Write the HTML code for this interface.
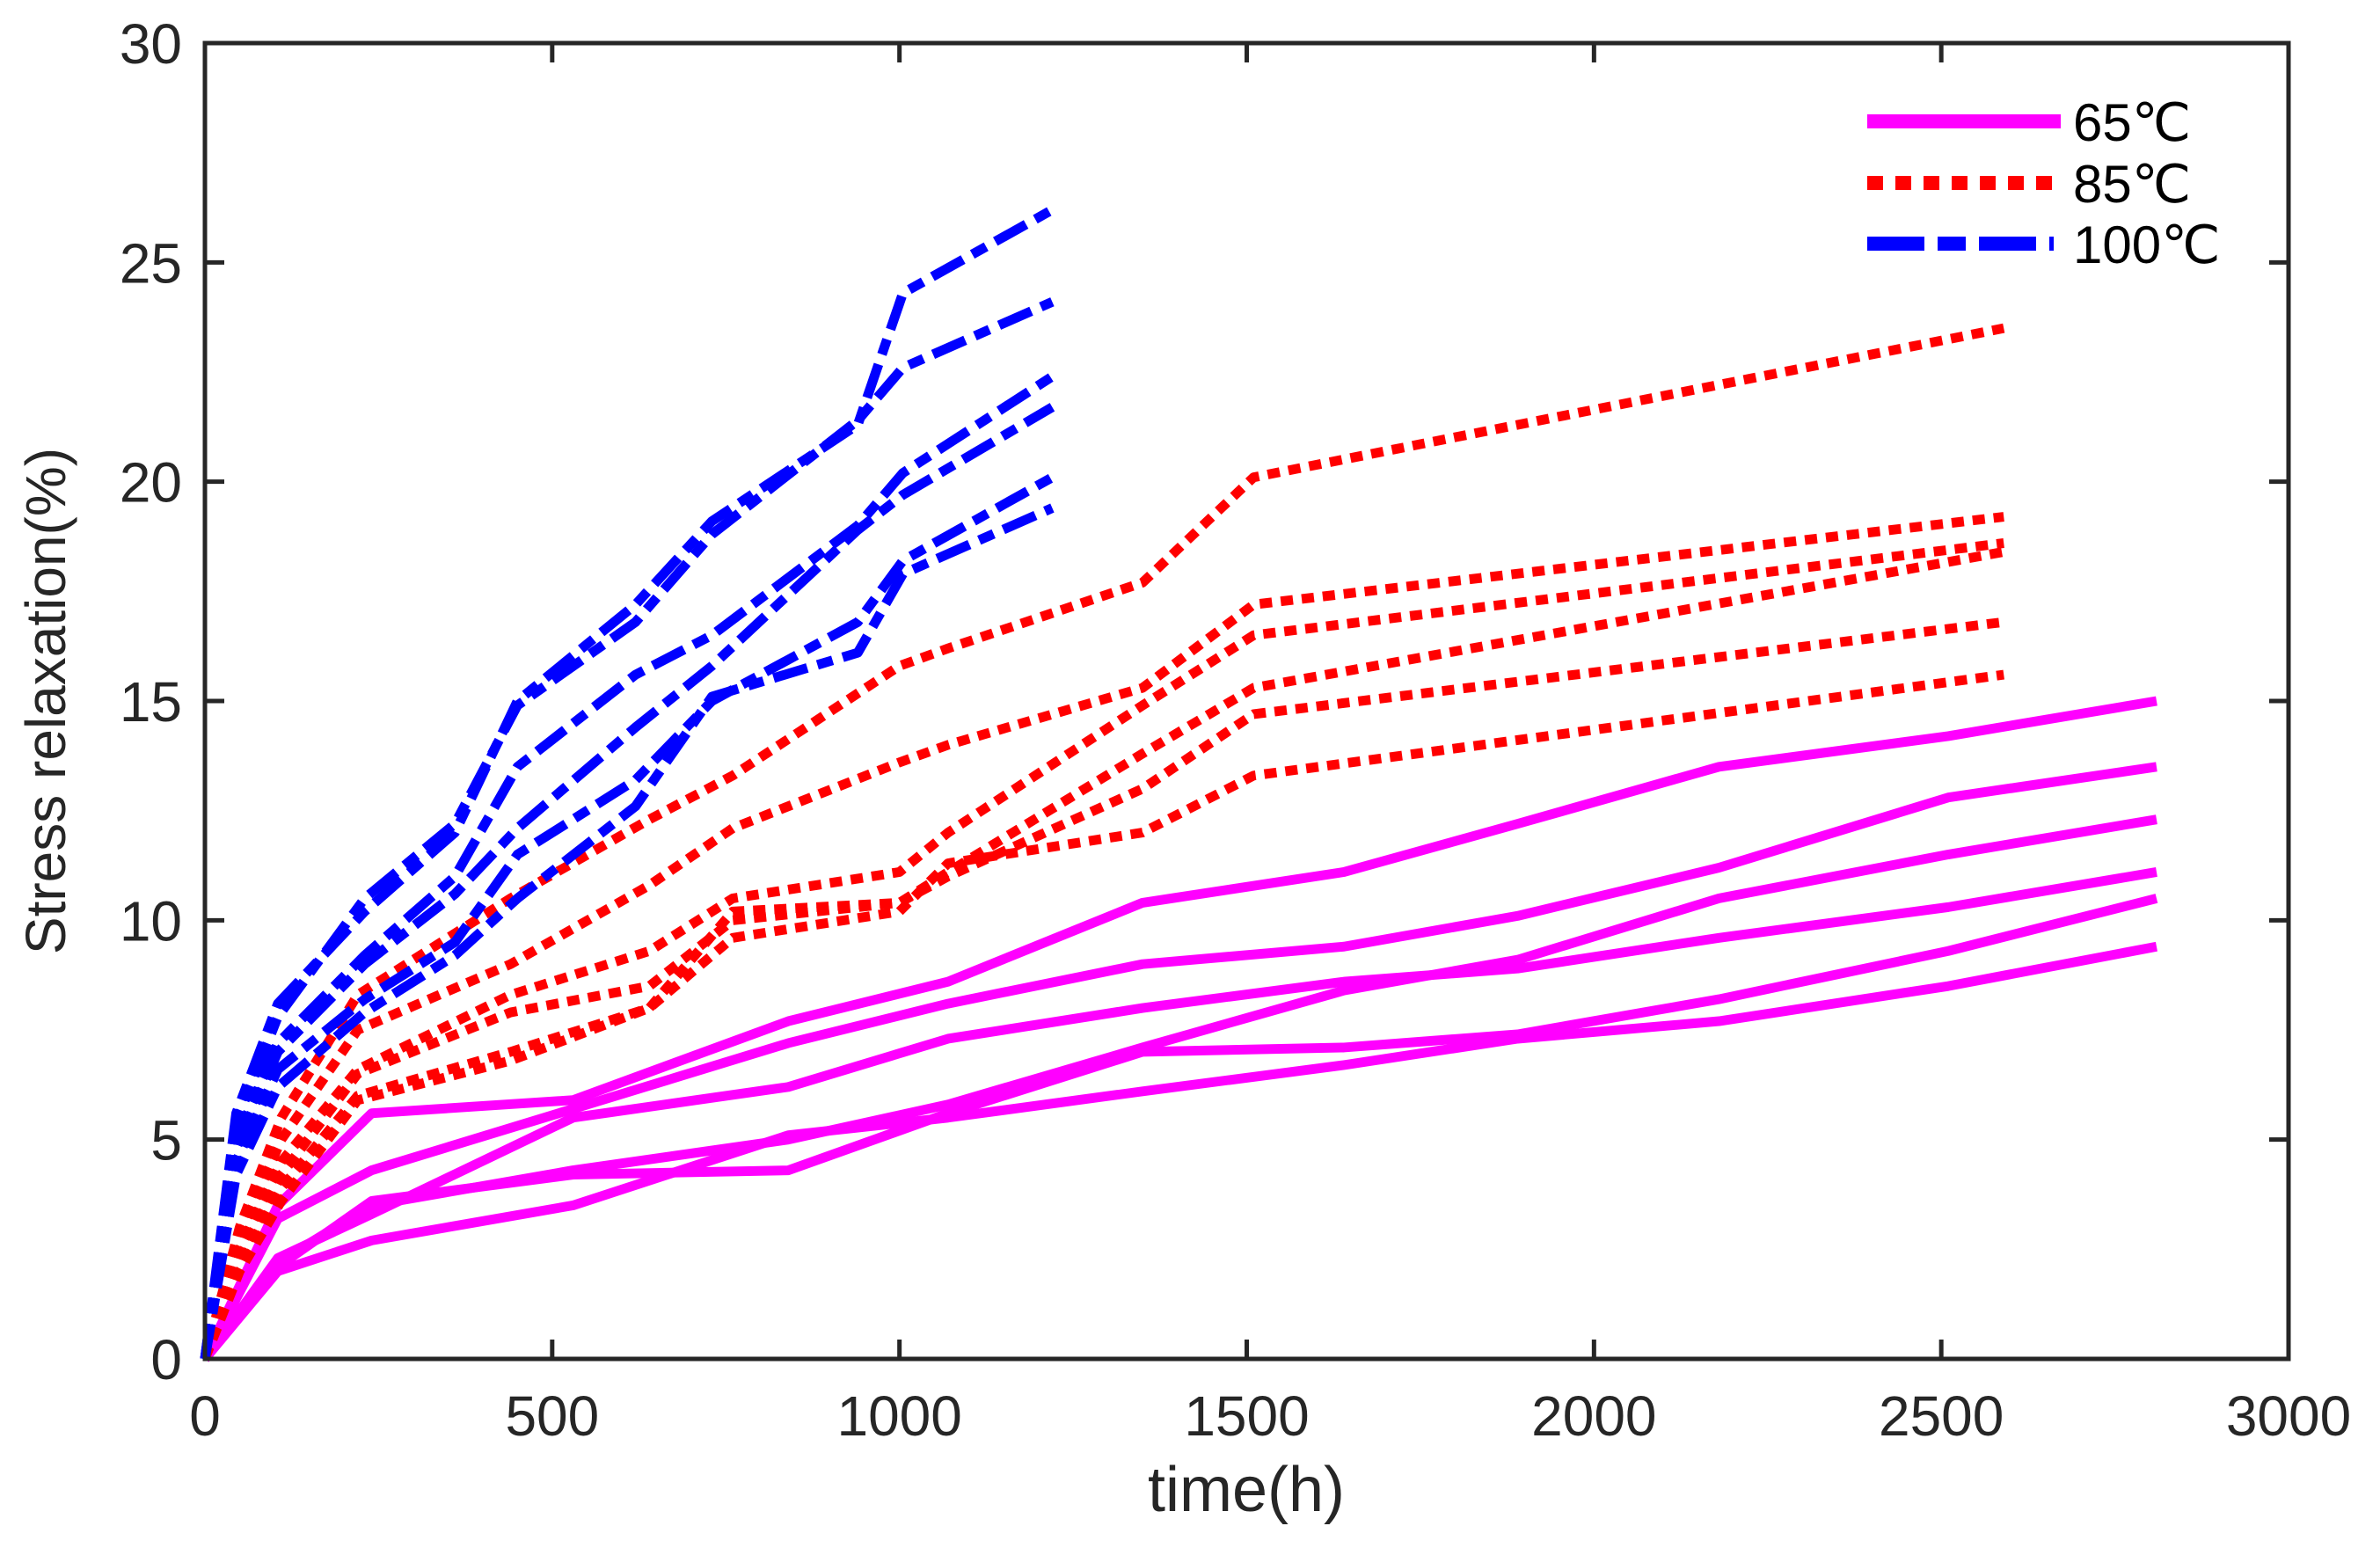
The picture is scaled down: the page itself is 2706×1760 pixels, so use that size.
<!DOCTYPE html>
<html><head><meta charset="utf-8"><style>body{margin:0;background:#fff}svg{display:block}</style></head>
<body>
<svg id="chart" width="2706" height="1760" xmlns="http://www.w3.org/2000/svg" font-family="Liberation Sans, DejaVu Sans, sans-serif">
<rect width="2706" height="1760" fill="#fff"/>
<g id="series"></g>
<g id="axes"></g>
<text x="1417" y="1718" font-size="72" text-anchor="middle" fill="#262626">time(h)</text>
<text transform="translate(74,797) rotate(-90)" font-size="64" text-anchor="middle" fill="#262626">Stress relaxation(%)</text>
<g>
<line x1="2123" y1="138" x2="2343" y2="138" stroke="#ff00ff" stroke-width="16"/>
<text x="2357" y="160" font-size="60" fill="#000">65℃</text>
<line x1="2123" y1="208" x2="2335" y2="208" stroke="#ff0000" stroke-width="16" stroke-dasharray="18,14"/>
<text x="2357" y="230" font-size="60" fill="#000">85℃</text>
<line x1="2123" y1="277" x2="2335" y2="277" stroke="#0000ff" stroke-width="16" stroke-dasharray="65,15,32,15"/>
<text x="2357" y="299" font-size="60" fill="#000">100℃</text>
</g>
</svg>
<script>
const xTicks=[0,500,1000,1500,2000,2500,3000];
const yTicks=[0,5,10,15,20,25,30];
const t65=[0,105,240,530,840,1070,1350,1640,1890,2180,2510,2810];
const s65a=[0,3.5,5.6,5.9,7.7,8.6,10.4,11.1,12.2,13.5,14.2,15.0];
const s65b=[0,3.2,4.3,5.7,7.2,8.1,9.0,9.4,10.1,11.2,12.8,13.5];
const s65c=[0,2.2,3.5,4.3,5.0,5.8,7.1,8.4,9.1,10.5,11.5,12.3];
const s65d=[0,2.3,3.3,5.5,6.2,7.3,8.0,8.6,8.9,9.6,10.3,11.1];
const s65e=[0,2.1,3.6,4.2,4.3,5.6,7.0,7.1,7.4,8.2,9.3,10.5];
const s65f=[0,2.0,2.7,3.5,5.1,5.5,6.1,6.7,7.3,7.7,8.5,9.4];
const t85=[0,50,110,220,440,640,760,1000,1070,1350,1510,2590];
const s85a=[0,3.0,5.5,8.3,10.5,12.3,13.3,15.8,16.2,17.7,20.1,23.5];
const s85b=[0,2.8,5.0,7.5,9.0,10.8,12.1,13.6,14.0,15.3,17.2,19.2];
const s85c=[0,2.5,4.5,6.6,8.3,9.3,10.5,11.1,12.0,14.9,16.5,18.6];
const s85d=[0,2.3,4.2,6.5,7.9,8.5,10.0,10.4,11.1,13.8,15.3,18.4];
const s85e=[0,2.1,3.9,6.0,7.0,8.0,10.2,10.4,11.0,13.0,14.7,16.8];
const s85f=[0,2.0,3.6,5.9,6.8,8.0,9.6,10.2,11.3,12.0,13.3,15.6];
const t100=[0,45,105,230,360,450,620,730,940,1005,1220];
const s100a=[0,5.6,8.1,10.2,12.0,15.0,17.2,19.1,21.3,24.3,26.2];
const s100b=[0,5.4,7.8,10.5,12.2,14.9,16.8,18.8,21.4,22.6,24.1];
const s100c=[0,5.0,7.2,9.2,11.0,13.5,15.6,16.5,19.0,20.2,22.4];
const s100d=[0,4.8,7.0,9.0,10.6,12.1,14.4,15.8,18.9,19.7,21.7];
const s100e=[0,4.5,6.6,8.2,9.5,11.5,13.2,15.0,16.8,18.2,20.1];
const s100f=[0,4.2,6.2,7.9,9.2,10.5,12.6,15.1,16.1,17.9,19.4];

const L=233,R=2602,T=49,B=1545;
function X(v){return L+(v-0)/(3000-0)*(R-L);}
function Y(v){return B-(v-0)/(30-0)*(B-T);}
const NS='http://www.w3.org/2000/svg';
const sg=document.getElementById('series'), ag=document.getElementById('axes');
function line(ts,vs,color,dash,name){
  const p=document.createElementNS(NS,'polyline');
  p.setAttribute('points',ts.map((t,i)=>X(t)+','+Y(vs[i])).join(' '));
  p.setAttribute('fill','none');p.setAttribute('stroke',color);p.setAttribute('stroke-width','11');
  p.setAttribute('stroke-linejoin','round');
  if(dash)p.setAttribute('stroke-dasharray',dash);
  
  
  sg.appendChild(p);
}
[s65a,s65b,s65c,s65d,s65e,s65f].forEach((s,i)=>line(t65,s,'#ff00ff',null,'series-65c-'+(i+1)));
[s85a,s85b,s85c,s85d,s85e,s85f].forEach((s,i)=>line(t85,s,'#ff0000','14,10','series-85c-'+(i+1)));
[s100a,s100b,s100c,s100d,s100e,s100f].forEach((s,i)=>line(t100,s,'#0000ff','40,12,18,12','series-100c-'+(i+1)));

const box=document.createElementNS(NS,'rect');
box.setAttribute('x',L);box.setAttribute('y',T);box.setAttribute('width',R-L);box.setAttribute('height',B-T);
box.setAttribute('fill','none');box.setAttribute('stroke','#262626');box.setAttribute('stroke-width','5');


ag.appendChild(box);
function seg(x1,y1,x2,y2){const l=document.createElementNS(NS,'line');l.setAttribute('x1',x1);l.setAttribute('y1',y1);l.setAttribute('x2',x2);l.setAttribute('y2',y2);l.setAttribute('stroke','#262626');l.setAttribute('stroke-width','5');


ag.appendChild(l);}
function txt(x,y,s,anchor,name){const t=document.createElementNS(NS,'text');t.setAttribute('x',x);t.setAttribute('y',y);t.setAttribute('font-size','64');t.setAttribute('fill','#262626');t.setAttribute('text-anchor',anchor);t.textContent=s;


ag.appendChild(t);}
xTicks.forEach(v=>{const x=X(v);seg(x,B,x,B-22);seg(x,T,x,T+22);txt(x,1632,String(v),'middle','x-tick-label');});
yTicks.forEach(v=>{const y=Y(v);seg(L,y,L+22,y);seg(R,y,R-22,y);txt(207,y+23,String(v),'end','y-tick-label');});
</script>
</body></html>
